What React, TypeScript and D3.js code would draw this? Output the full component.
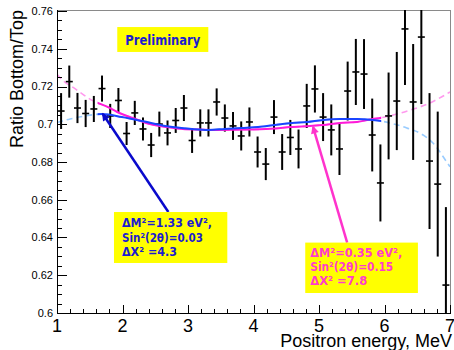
import React from 'react';
import * as d3 from 'd3';

const W = 454;
const H = 350;

// bin centres (MeV)
const binCenters = [
  1.0625, 1.1875, 1.3125, 1.4375, 1.5625, 1.6875, 1.8125, 1.9375,
  2.0625, 2.1875, 2.3125, 2.4375, 2.5625, 2.6875, 2.8125, 2.9375,
  3.0625, 3.1875, 3.3125, 3.4375, 3.5625, 3.6875, 3.8125, 3.9375,
  4.0625, 4.1875, 4.3125, 4.4375, 4.5625, 4.6875, 4.8125, 4.9375,
  5.0625, 5.1875, 5.3125, 5.4375, 5.5625, 5.6875, 5.8125, 5.9375,
  6.0625, 6.1875, 6.3125, 6.4375, 6.5625, 6.6875, 6.8125, 6.9375,
];
const ratio = [
  0.7070, 0.7226, 0.7086, 0.7057, 0.7081, 0.7189, 0.7044, 0.7126,
  0.6951, 0.7060, 0.6975, 0.6890, 0.7001, 0.6954, 0.7020, 0.7086,
  0.6914, 0.7007, 0.7007, 0.7118, 0.7033, 0.6991, 0.6938, 0.7012,
  0.6853, 0.6789, 0.7038, 0.6853, 0.6930, 0.6869, 0.7097, 0.7187,
  0.7038, 0.6970, 0.6869, 0.7176, 0.7277, 0.7266, 0.6943, 0.6689,
  0.7044, 0.7123, 0.7505, 0.7118, 0.7462, 0.6805, 0.6683, 0.6148,
];
const ratioErr = [
  0.0095, 0.0085, 0.0080, 0.0072, 0.0069, 0.0069, 0.0064, 0.0066,
  0.0061, 0.0064, 0.0061, 0.0064, 0.0066, 0.0066, 0.0066, 0.0069,
  0.0066, 0.0072, 0.0072, 0.0072, 0.0072, 0.0074, 0.0077, 0.0077,
  0.0082, 0.0085, 0.0090, 0.0095, 0.0093, 0.0103, 0.0117, 0.0125,
  0.0127, 0.0135, 0.0138, 0.0156, 0.0175, 0.0185, 0.0193, 0.0204,
  0.0230, 0.0260, 0.0297, 0.0307, 0.0355, 0.0360, 0.0384, 0.0413,
];
const halfBin = 0.0625;

// fit curve (dM2=1.33, sin2=0.03)
const fitBlueE = [1.0, 1.2, 1.43, 1.69, 1.99, 2.30, 2.65, 3.06, 3.31, 3.56, 3.82, 4.07, 4.33,
  4.59, 4.82, 5.06, 5.32, 5.58, 5.82, 5.95, 6.08, 6.34, 6.59, 6.74, 6.95, 7.0];
const fitBlueR = [0.7009, 0.7028, 0.7044, 0.7054, 0.7038, 0.7017, 0.6991, 0.6975, 0.6970, 0.6975,
  0.6980, 0.6985, 0.6996, 0.7006, 0.7012, 0.7023, 0.7028, 0.7028, 0.7023, 0.7017, 0.7007,
  0.6980, 0.6943, 0.6901, 0.6800, 0.6775];
// fit curve (dM2=0.35, sin2=0.15)
const fitMagE = [1.0, 1.05, 1.28, 1.53, 1.81, 1.92, 2.16, 2.42, 2.68, 2.92, 3.18, 3.44, 3.95, 4.33,
  4.56, 4.86, 5.06, 5.32, 5.58, 5.82, 5.93, 6.13, 6.39, 6.69, 7.0];
const fitMagR = [0.7265, 0.7245, 0.7187, 0.7128, 0.7086, 0.7065, 0.7033, 0.7001, 0.6985, 0.6975,
  0.6972, 0.6970, 0.6972, 0.6977, 0.6985, 0.6991, 0.6996, 0.7007, 0.7012, 0.7028, 0.7033,
  0.7049, 0.7075, 0.7112, 0.7171];
const fitRange = [1.62, 5.95];

const yTicks = [0.6, 0.62, 0.64, 0.66, 0.68, 0.7, 0.72, 0.74, 0.76];
const yTickLabels = ['0.6', '0.62', '0.64', '0.66', '0.68', '0.7', '0.72', '0.74', '0.76'];
const xTicks = [1, 2, 3, 4, 5, 6, 7];
const xTickLabels = ['1', '2', '3', '4', '5', '6', '7'];

const blueLabel = ['ΔM²=1.33 eV²,', 'Sin²(2θ)=0.03', 'ΔX² =4.3'];
const blueLabelLen = [90, 81, 55];
const magLabel = ['ΔM²=0.35 eV²,', 'Sin²(2θ)=0.15', 'ΔX² =7.8'];
const magLabelLen = [92, 83, 57];

// annotation anchors in data coordinates
const blueBox = { e0: 1.87, e1: 3.60, r0: 0.6535, r1: 0.6265 };
const magBox = { e0: 4.79, e1: 6.51, r0: 0.6373, r1: 0.6106 };
const prelimBox = { e0: 1.92, e1: 3.31, r0: 0.7515, r1: 0.7383 };
const blueArrow = { from: [2.70, 0.6535], to: [1.70, 0.7054] };
const magArrow = { from: [5.43, 0.6373], to: [4.91, 0.6985] };

export default function App() {
  const x = d3.scaleLinear().domain([1, 7]).range([57, 450]);
  const y = d3.scaleLinear().domain([0.6, 0.76]).range([313, 11]);
  const left = x(1);
  const right = x(7);
  const top = 10;
  const bottom = y(0.6);

  const line = d3
    .line<[number, number]>()
    .x((d) => x(d[0]))
    .y((d) => y(d[1]))
    .curve(d3.curveMonotoneX);
  const bluePts = fitBlueE.map((e, i) => [e, fitBlueR[i]] as [number, number]);
  const magPts = fitMagE.map((e, i) => [e, fitMagR[i]] as [number, number]);

  const yMinor = d3.range(0.6, 0.7601, 0.005);
  const xMinor = d3.range(1, 7.001, 0.2);

  const font = '"Liberation Sans", Arial, Helvetica, sans-serif';
  const comic = '"DejaVu Sans", "Noto Sans", sans-serif';
  const blueText = '#1c1cd0';
  const magText = '#ff3ccc';

  const box = (b: { e0: number; e1: number; r0: number; r1: number }) => ({
    x: x(b.e0),
    y: y(b.r0),
    w: x(b.e1) - x(b.e0),
    h: y(b.r1) - y(b.r0),
  });
  const bb = box(blueBox);
  const mb = box(magBox);
  const pb = box(prelimBox);

  return (
    <div style={{ position: 'absolute', left: 0, top: 0 }}>
      <svg width={W} height={H} viewBox={`0 0 ${W} ${H}`} style={{ display: 'block', background: '#fff' }}>
        <defs>
          <clipPath id="frame">
            <rect x={left} y={top} width={right - left} height={bottom - top} />
          </clipPath>
          <clipPath id="fitclip">
            <rect x={x(fitRange[0])} y={top} width={x(fitRange[1]) - x(fitRange[0])} height={bottom - top} />
          </clipPath>
          <marker id="ahBlue" viewBox="0 0 10 10" refX="8" refY="5" markerWidth="9" markerHeight="8"
            markerUnits="userSpaceOnUse" orient="auto">
            <path d="M0,0 L10,5 L0,10 z" fill="#0a0acc" />
          </marker>
          <marker id="ahMag" viewBox="0 0 10 10" refX="8" refY="5" markerWidth="9" markerHeight="8"
            markerUnits="userSpaceOnUse" orient="auto">
            <path d="M0,0 L10,5 L0,10 z" fill="#ff33cc" />
          </marker>
        </defs>

        {/* frame */}
        <line x1={left} x2={right} y1={top + 0.5} y2={top + 0.5} stroke="#8a8a8a" strokeWidth={1} />
        <line x1={right + 0.5} x2={right + 0.5} y1={top} y2={bottom} stroke="#8a8a8a" strokeWidth={1} />

        {/* dashed extrapolations */}
        <g clipPath="url(#frame)" fill="none">
          <path d={line(bluePts) || ''} stroke="#99ccff" strokeWidth={1.6} strokeDasharray="6,4" />
          <path d={line(magPts) || ''} stroke="#ff99ee" strokeWidth={1.6} strokeDasharray="6,4" />
        </g>

        {/* data points */}
        <g clipPath="url(#frame)" stroke="#000">
          {binCenters.map((c, i) => (
            <g key={i}>
              <line x1={x(c)} x2={x(c)} y1={y(ratio[i] + ratioErr[i])} y2={y(ratio[i] - ratioErr[i])} strokeWidth={2} />
              <line x1={x(c - halfBin) + 0.6} x2={x(c + halfBin) - 0.6} y1={y(ratio[i])} y2={y(ratio[i])} strokeWidth={1.6} />
            </g>
          ))}
        </g>

        {/* solid fits */}
        <g clipPath="url(#fitclip)" fill="none">
          <path d={line(magPts) || ''} stroke="#ff1ad9" strokeWidth={2} />
          <path d={line(bluePts) || ''} stroke="#1a44ff" strokeWidth={2} />
        </g>

        {/* axes */}
        <line x1={left + 0.5} x2={left + 0.5} y1={top} y2={bottom} stroke="#000" />
        <line x1={left} x2={right + 1} y1={bottom + 0.5} y2={bottom + 0.5} stroke="#000" />
        {yMinor.map((v, i) => (
          <line key={'ym' + i} x1={left} x2={left + 5} y1={Math.round(y(v)) + 0.5} y2={Math.round(y(v)) + 0.5} stroke="#000" />
        ))}
        {yTicks.map((v, i) => (
          <g key={'yt' + i}>
            <line x1={left} x2={left + 10} y1={Math.round(y(v)) + 0.5} y2={Math.round(y(v)) + 0.5} stroke="#000" />
            <text x={left - 4} y={y(v)} dy="0.36em" textAnchor="end" fontFamily={font} fontSize={11} fill="#000">
              {yTickLabels[i]}
            </text>
          </g>
        ))}
        {xMinor.map((v, i) => (
          <line key={'xm' + i} x1={Math.round(x(v)) + 0.5} x2={Math.round(x(v)) + 0.5} y1={bottom} y2={bottom - 4} stroke="#000" />
        ))}
        {xTicks.map((v, i) => (
          <g key={'xt' + i}>
            <line x1={Math.round(x(v)) + 0.5} x2={Math.round(x(v)) + 0.5} y1={bottom} y2={bottom - 8} stroke="#000" />
            <text x={x(v)} y={332} textAnchor="middle" fontFamily={font} fontSize={18} fill="#000">
              {xTickLabels[i]}
            </text>
          </g>
        ))}

        {/* axis titles */}
        <text x={452} y={347} textAnchor="end" fontFamily={font} fontSize={18} fill="#000">
          Positron energy, MeV
        </text>
        <text transform={`translate(23,${top}) rotate(-90)`} textAnchor="end" fontFamily={font} fontSize={18} fill="#000">
          Ratio Bottom/Top
        </text>

        {/* Preliminary */}
        <rect x={pb.x} y={pb.y} width={pb.w} height={pb.h} fill="#ffff00" />
        <text x={pb.x + pb.w / 2} y={pb.y + 17.5} textAnchor="middle" fontFamily={comic} fontWeight="bold"
          fontSize={14} fill={blueText} textLength={75} lengthAdjust="spacingAndGlyphs">
          Preliminary
        </text>

        {/* arrows */}
        <line x1={x(blueArrow.from[0])} y1={y(blueArrow.from[1])} x2={x(blueArrow.to[0])} y2={y(blueArrow.to[1])}
          stroke="#0a0acc" strokeWidth={2.5} markerEnd="url(#ahBlue)" />
        <line x1={x(magArrow.from[0])} y1={y(magArrow.from[1])} x2={x(magArrow.to[0])} y2={y(magArrow.to[1])}
          stroke="#ff33cc" strokeWidth={2.5} markerEnd="url(#ahMag)" />

        {/* annotation boxes */}
        <rect x={bb.x} y={bb.y} width={bb.w} height={bb.h} fill="#ffff00" />
        {blueLabel.map((t, i) => (
          <text key={'bl' + i} x={bb.x + 8} y={bb.y + 15 + i * 14.5} fontFamily={comic} fontWeight="bold" fontSize={12}
            fill={blueText} textLength={blueLabelLen[i]} lengthAdjust="spacingAndGlyphs">
            {t}
          </text>
        ))}
        <rect x={mb.x} y={mb.y} width={mb.w} height={mb.h} fill="#ffff00" />
        {magLabel.map((t, i) => (
          <text key={'ml' + i} x={mb.x + 5} y={mb.y + 14 + i * 14.3} fontFamily={comic} fontWeight="bold" fontSize={12}
            fill={magText} textLength={magLabelLen[i]} lengthAdjust="spacingAndGlyphs">
            {t}
          </text>
        ))}
      </svg>
    </div>
  );
}
